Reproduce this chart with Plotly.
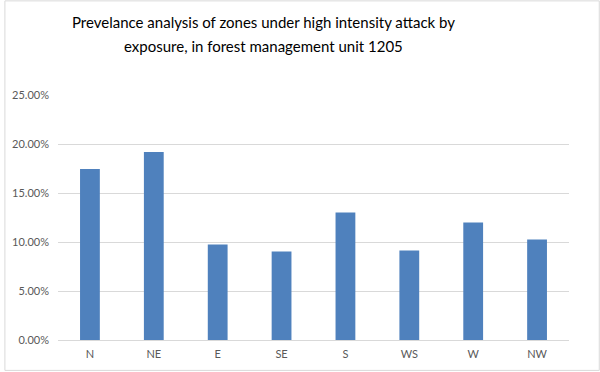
import plotly.graph_objects as go

categories = ["N", "NE", "E", "SE", "S", "WS", "W", "NW"]
prevalence = [0.1745, 0.1918, 0.0975, 0.0903, 0.1300, 0.0913, 0.1198, 0.1025]
title_lines = ["Prevelance analysis of zones under high intensity attack by",
               "exposure, in forest management unit 1205"]

W, H = 600, 372
ml, mr, mt, mb = 54, 31, 95, 31
pw, ph = W - ml - mr, H - mt - mb
FONT = "Lato, Carlito, sans-serif"
title_cx = 261  # horizontal centre of the title, in pixels

fig = go.Figure(go.Bar(x=categories, y=prevalence, marker=dict(color="#4f81bd", line=dict(width=0))))

annotations = []
for i, line in enumerate(title_lines):
    y_px = 22 + 24 * i  # center of the line from top of figure
    annotations.append(dict(text=line, xref="paper", yref="paper", x=(title_cx - ml) / pw,
                            y=1 + (mt - y_px) / ph, xanchor="center", yanchor="middle",
                            showarrow=False, font=dict(family=FONT, size=15, color="#000000")))

fig.update_layout(
    width=W, height=H,
    margin=dict(l=ml, r=mr, t=mt, b=mb),
    plot_bgcolor="white", paper_bgcolor="white",
    bargap=0.69,
    showlegend=False,
    font=dict(family=FONT, size=11, color="#595959"),
    xaxis=dict(showline=True, linecolor="#d9d9d9", linewidth=1, ticks="", showgrid=False,
               ticklabelstandoff=4, tickfont=dict(size=11, color="#595959")),
    yaxis=dict(range=[0, 0.25], dtick=0.05, tickformat=".2%", showgrid=True, gridcolor="#d9d9d9",
               gridwidth=1, zeroline=False, showline=False, ticks="", ticklabelstandoff=8,
               tickfont=dict(size=11, color="#595959")),
    annotations=annotations,
    shapes=[dict(type="rect", xref="paper", yref="paper",
                 x0=-(ml - 0.5) / pw, x1=1 + (mr - 0.5) / pw,
                 y0=-(mb - 0.5) / ph, y1=1 + (mt - 0.5) / ph,
                 line=dict(color="#d9d9d9", width=1), layer="below")],
)

fig.write_html("out.html", config={"displayModeBar": False},
               post_script="document.body.style.margin='0';document.body.style.overflow='hidden';")
